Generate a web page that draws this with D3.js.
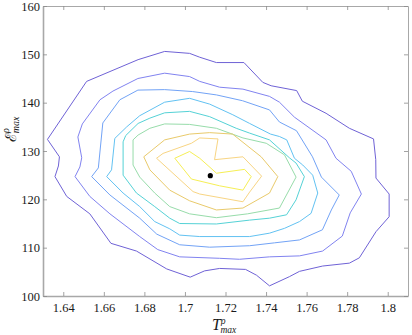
<!DOCTYPE html>
<html>
<head>
<meta charset="utf-8">
<script src="https://cdn.jsdelivr.net/npm/d3@7/dist/d3.min.js"></script>
<style>
  html, body { margin: 0; padding: 0; background: #fff; }
  svg { display: block; }
</style>
</head>
<body>
<svg id="chart" width="412" height="335"></svg>
<script>
// ---- data (T^rho_max, E^rho_max) contour vertices, outermost -> innermost ----
const xTicks = [1.64, 1.66, 1.68, 1.70, 1.72, 1.74, 1.76, 1.78, 1.80];
const xTickLabels = ["1.64", "1.66", "1.68", "1.7", "1.72", "1.74", "1.76", "1.78", "1.8"];
const yTicks = [100, 110, 120, 130, 140, 150, 160];
const yTickLabels = ["100", "110", "120", "130", "140", "150", "160"];

const level1 = [[1.6322,132.4],[1.6381,128.8],[1.6376,126.9],[1.6359,124.7],[1.6417,120.6],[1.6531,117.0],[1.6635,110.9],[1.6761,109.3],[1.6910,105.6],[1.7026,103.9],[1.7097,105.2],[1.7171,105.7],[1.7299,105.5],[1.7353,104.3],[1.7417,102.1],[1.7515,104.0],[1.7565,105.1],[1.7679,106.2],[1.7811,106.8],[1.7860,107.9],[1.7942,113.3],[1.8007,116.4],[1.8007,121.1],[1.7942,124.4],[1.7941,128.2],[1.7930,132.5],[1.7811,134.7],[1.7696,137.8],[1.7579,140.3],[1.7551,142.5],[1.7425,143.5],[1.7384,144.2],[1.7291,148.3],[1.7155,148.3],[1.7073,149.4],[1.7023,150.2],[1.6900,150.6],[1.6769,148.9],[1.6515,144.4]];
const level2 = [[1.6472,132.9],[1.6491,128.6],[1.6482,126.7],[1.6458,124.7],[1.6531,120.6],[1.6630,117.0],[1.6777,112.3],[1.6866,109.6],[1.6974,108.1],[1.7171,107.8],[1.7269,107.6],[1.7417,108.1],[1.7565,108.3],[1.7679,109.3],[1.7776,112.4],[1.7815,117.2],[1.7870,121.1],[1.7820,125.8],[1.7745,128.5],[1.7696,132.3],[1.7540,137.0],[1.7466,140.1],[1.7417,141.3],[1.7286,142.8],[1.7171,143.2],[1.7073,144.4],[1.7023,145.4],[1.6900,146.1],[1.6768,145.0],[1.6645,142.4],[1.6581,140.6],[1.6494,135.6]];
const level3 = [[1.6595,135.8],[1.6573,126.5],[1.6540,124.7],[1.6630,120.9],[1.6777,116.1],[1.6861,112.8],[1.6974,110.6],[1.7122,110.1],[1.7319,110.4],[1.7442,111.0],[1.7565,111.6],[1.7678,113.7],[1.7722,117.8],[1.7761,120.9],[1.7673,124.6],[1.7629,128.8],[1.7550,134.2],[1.7466,136.0],[1.7417,138.5],[1.7284,140.4],[1.7156,141.6],[1.7038,142.3],[1.6900,142.7],[1.6768,142.6],[1.6679,140.6]];
const level4 = [[1.6654,132.6],[1.6638,126.1],[1.6614,124.7],[1.6695,121.3],[1.6777,118.5],[1.6851,115.4],[1.6925,113.9],[1.6974,112.6],[1.7073,112.3],[1.7319,112.3],[1.7417,113.0],[1.7491,114.0],[1.7565,115.4],[1.7622,117.1],[1.7655,121.3],[1.7630,125.0],[1.7581,127.1],[1.7540,128.5],[1.7502,132.3],[1.7466,133.0],[1.7422,133.5],[1.7319,135.7],[1.7236,137.5],[1.7122,139.7],[1.7023,140.9],[1.6900,140.1],[1.6777,137.3],[1.6713,135.0]];
const level5 = [[1.6708,133.2],[1.6695,131.9],[1.6695,125.0],[1.6761,121.3],[1.6851,118.5],[1.6925,116.1],[1.6974,115.0],[1.7155,114.9],[1.7319,115.7],[1.7417,116.1],[1.7501,116.8],[1.7548,119.9],[1.7589,124.7],[1.7548,127.5],[1.7515,128.6],[1.7417,132.3],[1.7319,133.7],[1.7253,134.7],[1.7122,137.1],[1.7023,138.2],[1.6900,137.9],[1.6827,136.8],[1.6769,135.7]];
const level6 = [[1.6744,132.3],[1.6744,127.1],[1.6777,124.6],[1.6851,121.3],[1.6925,118.5],[1.7023,117.0],[1.7155,116.2],[1.7309,117.0],[1.7466,118.2],[1.7548,124.6],[1.7491,129.2],[1.7401,131.6],[1.7286,132.7],[1.7155,134.7],[1.7023,135.5],[1.6900,135.6],[1.6827,134.7],[1.6769,133.3]];
const level7 = [[1.6797,128.8],[1.6900,132.3],[1.7023,133.5],[1.7122,133.8],[1.7235,133.5],[1.7376,128.8],[1.7458,124.7],[1.7417,121.3],[1.7286,118.2],[1.7155,117.8],[1.7023,119.7],[1.6925,121.9],[1.6827,126.1]];
const level8 = [[1.6860,128.5],[1.6892,129.5],[1.7032,131.6],[1.7073,132.7],[1.7163,132.5],[1.7146,128.2],[1.7286,128.8],[1.7378,124.8],[1.7319,121.5],[1.7286,119.5],[1.7073,121.1],[1.7040,121.6]];
const level9 = [[1.6950,128.5],[1.7023,129.9],[1.7073,128.5],[1.7156,125.4],[1.7294,126.2],[1.7327,124.7],[1.7286,121.9],[1.7171,122.8],[1.7032,124.2]];
const levels = [level1, level2, level3, level4, level5, level6, level7, level8, level9];
const levelColors = ["#6f62d6", "#8183f0", "#72a3f6", "#62c2f2", "#55d2d6", "#97dcaa", "#e9ca6b", "#f8d583", "#f6ef55"];
const peak = [1.7125, 124.9];

// ---- layout ----
const svg = d3.select("#chart");
const mLeft = 43, mRight = 408, mTop = 6, mBottom = 296;
const x = d3.scaleLinear().domain([1.63, 1.81]).range([mLeft, mRight]);
const y = d3.scaleLinear().domain([100, 160]).range([mBottom, mTop]);

const line = d3.line().x(d => x(d[0])).y(d => y(d[1])).curve(d3.curveLinearClosed);

// contours
svg.append("g").selectAll("path").data(levels).join("path")
  .attr("d", line)
  .attr("fill", "none")
  .attr("stroke", (d, i) => levelColors[i])
  .attr("stroke-width", 1)
  .attr("stroke-linejoin", "miter");

// peak point
svg.append("circle")
  .attr("cx", x(peak[0])).attr("cy", y(peak[1]))
  .attr("r", 2.6).attr("fill", "#000");

// axes box
const axisColor = "#a8a8a8";
const fontFam = "'Liberation Serif', 'DejaVu Serif', serif";

const gx = svg.append("g").attr("transform", `translate(0,${mBottom})`)
  .call(d3.axisBottom(x).tickValues(xTicks).tickFormat((d, i) => xTickLabels[i]).tickSizeInner(-4).tickSizeOuter(0).tickPadding(7));
const gxTop = svg.append("g").attr("transform", `translate(0,${mTop})`)
  .call(d3.axisTop(x).tickValues(xTicks).tickFormat("").tickSizeInner(-4).tickSizeOuter(0));
const gy = svg.append("g").attr("transform", `translate(${mLeft},0)`)
  .call(d3.axisLeft(y).tickValues(yTicks).tickFormat((d, i) => yTickLabels[i]).tickSizeInner(-4).tickSizeOuter(0).tickPadding(3));
const gyRight = svg.append("g").attr("transform", `translate(${mRight},0)`)
  .call(d3.axisRight(y).tickValues(yTicks).tickFormat("").tickSizeInner(-4).tickSizeOuter(0));

[gx, gxTop, gy, gyRight].forEach(g => {
  g.select(".domain").attr("stroke", axisColor).attr("stroke-width", 1);
  g.selectAll(".tick line").attr("stroke", "#8c8c8c").attr("stroke-width", 0.8);
  g.selectAll(".tick text").attr("fill", "#1a1a1a").style("font-family", fontFam).style("font-size", "12.5px");
});
gx.select(".domain").attr("stroke-width", 1.6);
gy.select(".domain").attr("stroke-width", 1.6);

// x label  T^rho_max
const xl = svg.append("text")
  .attr("x", 212).attr("y", 330)
  .style("font-family", fontFam).style("font-style", "italic")
  .style("font-size", "16px").attr("fill", "#1a1a1a");
xl.append("tspan").text("T");
xl.append("tspan").attr("dy", -6).style("font-size", "9.5px").text("ρ");
xl.append("tspan").attr("dx", -5).attr("dy", 9).style("font-size", "9.5px").text("max");

// y label  E^rho_max (rotated)
const yl = svg.append("text")
  .attr("transform", "translate(16,142) rotate(-90)")
  .style("font-family", fontFam).style("font-style", "italic")
  .style("font-size", "15px").attr("fill", "#1a1a1a");
yl.append("tspan").style("font-family", "'DejaVu Serif', serif").style("font-style", "normal").text("ℰ");
yl.append("tspan").attr("dy", -7).style("font-size", "10px").text("ρ");
yl.append("tspan").attr("dx", -5).attr("dy", 10).style("font-size", "10px").text("max");
</script>
</body>
</html>
